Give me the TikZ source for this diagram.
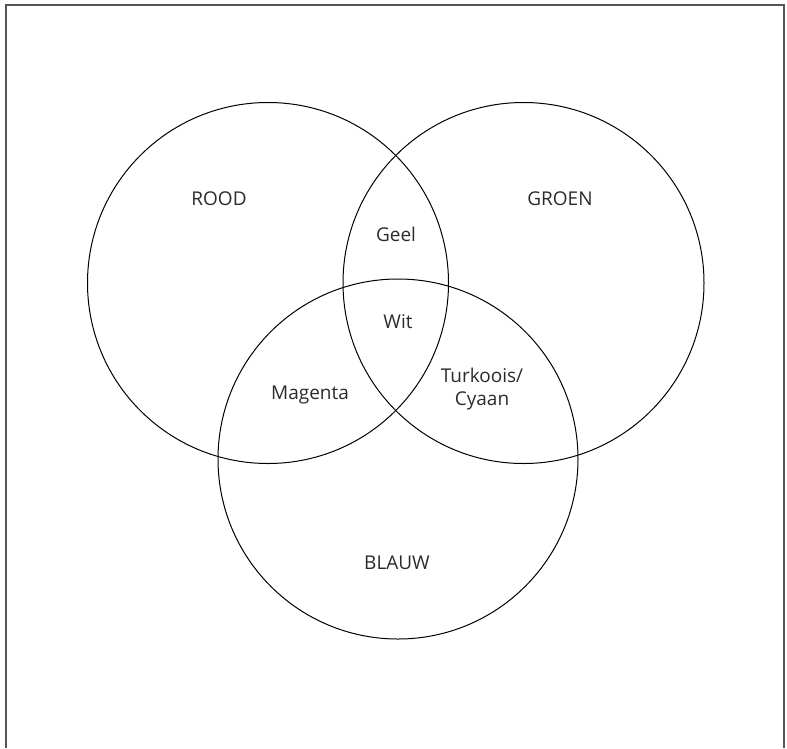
\documentclass[tikz,border=0pt]{standalone}
\usepackage{fontspec}
\setmainfont{Open Sans}
\usepackage{tikz}
\usetikzlibrary{positioning,calc}

\definecolor{inkgray}{HTML}{2B2B2B}
\definecolor{framegray}{HTML}{555555}

\tikzset{
  lbl/.style={text=inkgray, font=\fontsize{19}{23}\selectfont, inner sep=0pt, align=center},
  ring/.style={draw=black, line width=1pt}
}

\begin{document}
\begin{tikzpicture}[x=1pt,y=-1pt]

\useasboundingbox (0,0) rectangle (787,748);
\draw[framegray, line width=2pt] (6,748) -- (6,5) -- (784,5) -- (784,748);

\draw[ring] (268,283) circle (180.5);
\draw[ring] (523.5,283) circle (180.5);
\draw[ring] (398,459) circle (180);

\node[lbl] (rood) at (219,199) {ROOD};
\node[lbl] (groen) at (560,199) {GROEN};
\node[lbl] (geel) at (396,234) {Geel};
\node[lbl] (wit) at (398,322) {Wit};
\node[lbl] (magenta) at (310,395) {Magenta};
\node[lbl] (cyaan) at (482,389) {Turkoois/\\Cyaan};
\node[lbl] (blauw) at (397,563) {BLAUW};

\end{tikzpicture}
\end{document}
